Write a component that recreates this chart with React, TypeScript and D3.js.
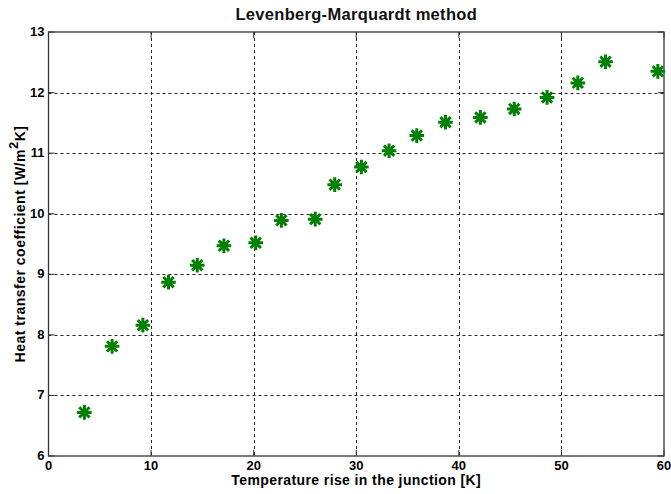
import React, { useEffect, useRef } from "react";
import * as d3 from "d3";

// values
const tempRise = [3.5, 6.2, 9.2, 11.7, 14.5, 17.1, 20.2, 22.7, 26.0, 27.9, 30.5, 33.2, 35.9, 38.7, 42.1, 45.4, 48.6, 51.6, 54.3, 59.4];
const heatCoef = [6.72, 7.81, 8.16, 8.87, 9.15, 9.47, 9.52, 9.89, 9.91, 10.48, 10.77, 11.04, 11.29, 11.51, 11.59, 11.73, 11.92, 12.16, 12.51, 12.35];
const xTicks = [0, 10, 20, 30, 40, 50, 60];
const yTicks = [6, 7, 8, 9, 10, 11, 12, 13];

const W = 671;
const H = 494;
const margin = { top: 32, right: 7, bottom: 38, left: 48.5 };

function App() {
    const ref = useRef<SVGSVGElement>(null);

    useEffect(() => {
        document.body.style.margin = "0";
        document.body.style.overflow = "hidden";
        const svg = d3.select(ref.current);
        svg.selectAll("*").remove();

        const x = d3.scaleLinear().domain([0, 60]).range([margin.left, W - margin.right]);
        const y = d3.scaleLinear().domain([6, 13]).range([H - margin.bottom, margin.top]);
        const font = "Arial, 'Liberation Sans', sans-serif";

        svg.append("rect").attr("width", W).attr("height", H).attr("fill", "#fff");

        // grid lines
        const grid = svg.append("g").attr("stroke", "#222").attr("stroke-width", 1).attr("stroke-dasharray", "3,3");
        grid.selectAll("line.gx")
            .data(xTicks.slice(1, -1))
            .join("line")
            .attr("x1", (d) => Math.round(x(d)) + 0.5)
            .attr("x2", (d) => Math.round(x(d)) + 0.5)
            .attr("y1", y(13))
            .attr("y2", y(6));
        grid.selectAll("line.gy")
            .data(yTicks.slice(1, -1))
            .join("line")
            .attr("class", "gy")
            .attr("x1", x(0))
            .attr("x2", x(60))
            .attr("y1", (d) => Math.round(y(d)) + 0.5)
            .attr("y2", (d) => Math.round(y(d)) + 0.5);

        // box
        svg.append("rect")
            .attr("x", x(0))
            .attr("y", y(13))
            .attr("width", x(60) - x(0))
            .attr("height", y(6) - y(13))
            .attr("fill", "none")
            .attr("stroke", "#333")
            .attr("stroke-width", 1.3);

        // inner ticks
        const ticks = svg.append("g").attr("stroke", "#333").attr("stroke-width", 1);
        xTicks.forEach((t) => {
            ticks.append("line").attr("x1", x(t)).attr("x2", x(t)).attr("y1", y(6)).attr("y2", y(6) - 6);
            ticks.append("line").attr("x1", x(t)).attr("x2", x(t)).attr("y1", y(13)).attr("y2", y(13) + 6);
        });
        yTicks.forEach((t) => {
            ticks.append("line").attr("x1", x(0)).attr("x2", x(0) + 6).attr("y1", y(t)).attr("y2", y(t));
            ticks.append("line").attr("x1", x(60)).attr("x2", x(60) - 6).attr("y1", y(t)).attr("y2", y(t));
        });

        // tick labels
        svg.append("g")
            .selectAll("text")
            .data(xTicks)
            .join("text")
            .attr("x", (d) => x(d))
            .attr("y", y(6) + 14)
            .attr("text-anchor", "middle")
            .attr("font-family", font)
            .attr("font-weight", "bold")
            .attr("font-size", 13)
            .text((d) => d);
        svg.append("g")
            .selectAll("text")
            .data(yTicks)
            .join("text")
            .attr("x", x(0) - 4)
            .attr("y", (d) => y(d) + 4)
            .attr("text-anchor", "end")
            .attr("font-family", font)
            .attr("font-weight", "bold")
            .attr("font-size", 13)
            .text((d) => d);

        // markers (asterisks)
        const r = 7.3;
        const star = [0, 45, 90, 135]
            .map((a) => {
                const rad = (a * Math.PI) / 180;
                const dx = r * Math.cos(rad);
                const dy = r * Math.sin(rad);
                return `M${-dx},${-dy}L${dx},${dy}`;
            })
            .join("");
        svg.append("g")
            .selectAll("path")
            .data(tempRise)
            .join("path")
            .attr("transform", (d, i) => `translate(${x(d)},${y(heatCoef[i])})`)
            .attr("d", star)
            .attr("stroke", "#008000")
            .attr("stroke-width", 3)
            .attr("fill", "none");

        // title and labels
        svg.append("text")
            .attr("x", (x(0) + x(60)) / 2)
            .attr("y", 20)
            .attr("text-anchor", "middle")
            .attr("font-family", font)
            .attr("font-weight", "bold")
            .attr("font-size", 16.5)
            .attr("letter-spacing", 0.3)
            .attr("fill", "#111")
            .text("Levenberg-Marquardt method");
        svg.append("text")
            .attr("x", (x(0) + x(60)) / 2)
            .attr("y", 485)
            .attr("text-anchor", "middle")
            .attr("font-family", font)
            .attr("font-weight", "bold")
            .attr("font-size", 14)
            .attr("letter-spacing", 0.4)
            .text("Temperature rise in the junction [K]");
        const yl = svg.append("text")
            .attr("transform", `translate(25,${(y(6) + y(13)) / 2}) rotate(-90)`)
            .attr("text-anchor", "middle")
            .attr("font-family", font)
            .attr("font-weight", "bold")
            .attr("font-size", 14)
            .attr("letter-spacing", 0.5);
        yl.append("tspan").text("Heat transfer coefficient [W/m");
        yl.append("tspan").attr("dy", -7).attr("font-size", 13).text("2");
        yl.append("tspan").attr("dy", 7).text("K]");
    }, []);

    return <svg ref={ref} width={W} height={H} style={{ display: "block" }} />;
}

export default App;
